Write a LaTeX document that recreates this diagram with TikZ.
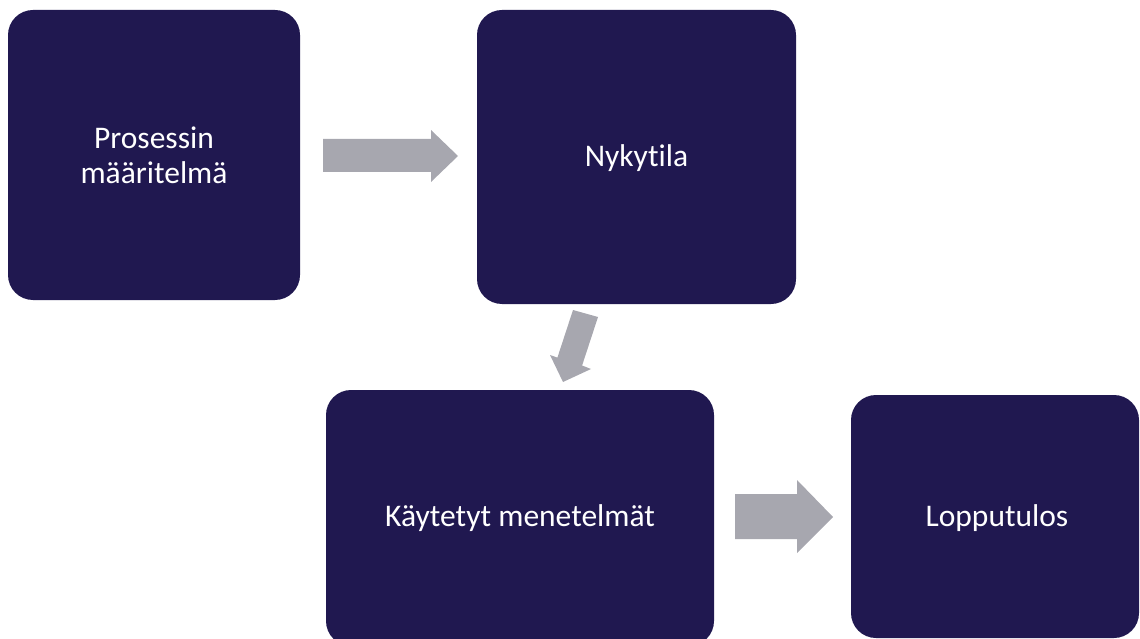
\documentclass[tikz,border=0pt]{standalone}
\usepackage{fontspec}
\setmainfont{Carlito}[Ligatures=NoCommon]
\definecolor{navy}{HTML}{201850}
\definecolor{arrowgrey}{HTML}{A7A7AF}
\begin{document}
\begin{tikzpicture}[x=1pt,y=-1pt,
  box/.style={fill=navy,draw=none,rounded corners=25pt,inner sep=0pt},
  lbl/.style={text=white,align=center,font=\fontsize{31.5}{35}\selectfont,inner sep=0pt}]
\tikzset{blockarrow/.style={fill=arrowgrey,draw=none}}
\useasboundingbox (0,0) rectangle (1140,639);
\clip (0,0) rectangle (1140,639);
% boxes
\node[box,minimum width=292pt,minimum height=290pt] (b1) at (154,155) {};
\node[lbl] (t1) at (154,155) {Prosessin\\määritelmä};
\node[box,minimum width=319pt,minimum height=294pt] (b2) at (636.5,157) {};
\node[lbl] (t2) at (636.5,158) {Nykytila};
\node[box,minimum width=388pt,minimum height=256pt] (b3) at (520,518) {};
\node[lbl] (t3) at (520,518) {Käytetyt menetelmät};
\node[box,minimum width=288pt,minimum height=243pt] (b4) at (995,516.5) {};
\node[lbl] (t4) at (997,518) {Lopputulos};
% block arrows
\fill[blockarrow] (323,139) -- (431,139) -- (431,130) -- (458,156) -- (431,182) -- (431,172) -- (323,172) -- cycle;
\fill[blockarrow] (573,310) -- (598,317) -- (582.1,365.5) -- (591,369) -- (563,382) -- (550,355) -- (557.4,357.6) -- cycle;
\fill[blockarrow] (735,494) -- (797,494) -- (797,480) -- (833,517) -- (797,553) -- (797,539) -- (735,539) -- cycle;
\end{tikzpicture}
\end{document}
